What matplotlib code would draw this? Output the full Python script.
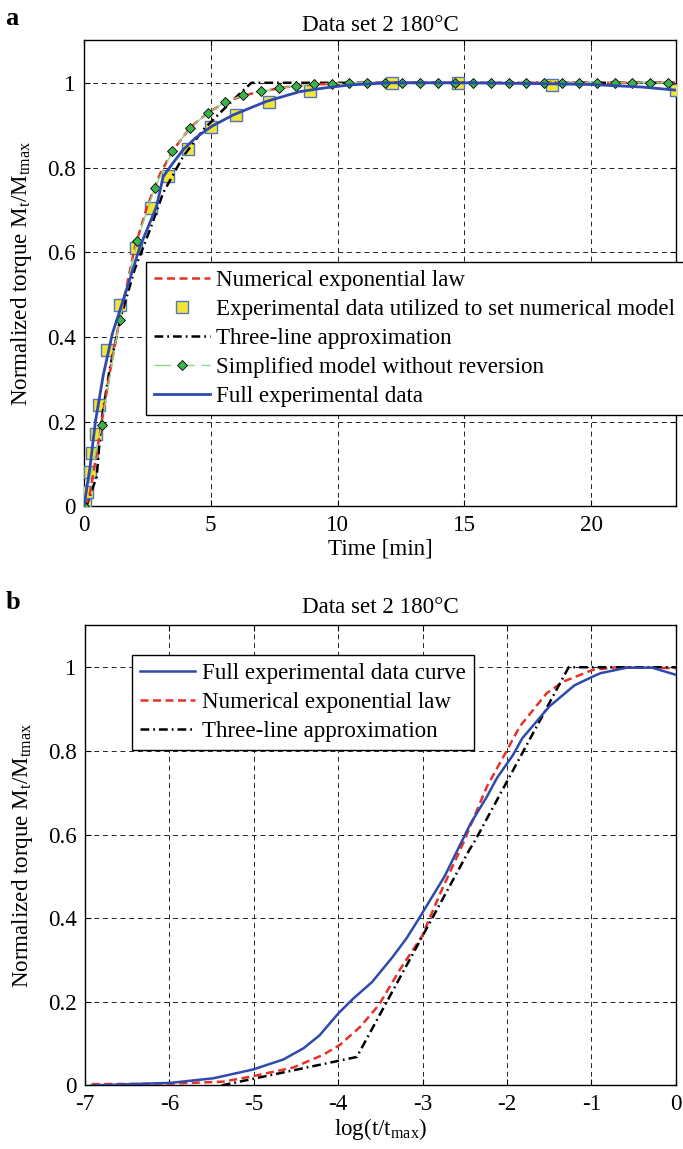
import matplotlib
matplotlib.use("Agg")
import matplotlib.pyplot as plt
from matplotlib.ticker import FuncFormatter

plt.rcParams['font.family'] = ['Liberation Serif', 'DejaVu Serif']
plt.rcParams['mathtext.fontset'] = 'custom'
plt.rcParams['mathtext.rm'] = 'Liberation Serif'
plt.rcParams['mathtext.it'] = 'Liberation Serif:italic'

# --- panel a : time domain [min] ---
t_full = [0, 0.1, 0.24, 0.45, 0.76, 1.12, 1.68, 2.2, 2.86, 3.12, 3.5, 3.91, 4.4,
          5.03, 5.88, 7.19, 8.5, 9.5, 10.5, 12, 15, 18, 20, 22, 23.3]
y_full = [0, 0.04, 0.094, 0.20, 0.31, 0.408, 0.512, 0.612, 0.708, 0.778, 0.81, 0.842, 0.87,
          0.897, 0.924, 0.956, 0.979, 0.988, 0.995, 1.0, 1.0, 0.998, 0.996, 0.99, 0.983]

t_sq = [0.04, 0.1, 0.23, 0.33, 0.46, 0.6, 0.91, 1.41, 2.04, 2.66, 3.3, 4.1,
        5.0, 6.0, 7.3, 8.92, 12.14, 14.74, 18.45, 23.33]
y_sq = [0.004, 0.035, 0.08, 0.127, 0.171, 0.24, 0.37, 0.476, 0.609, 0.704, 0.781, 0.843,
        0.896, 0.925, 0.955, 0.98, 1.0, 1.0, 0.995, 0.983]

t_exp = [0, 0.2, 0.4, 0.7, 1.0, 1.4, 2.0, 2.5, 3.0, 3.5, 4.2, 4.9, 5.6, 6.3, 7.0,
         8.0, 9.0, 10.0, 11.0, 12, 15, 20, 23.3]
y_exp = [0, 0.02, 0.09, 0.2, 0.31, 0.44, 0.61, 0.71, 0.785, 0.84, 0.895, 0.93, 0.955,
         0.97, 0.98, 0.99, 0.996, 0.998, 0.999, 1.0, 1.0, 1.0, 1.0]

t_3l = [0, 0.12, 0.5, 0.68, 1.0, 1.42, 2.0, 2.6, 3.12, 3.91, 4.7, 5.75, 6.6, 10, 15, 20, 23.3]
y_3l = [0, 0.005, 0.07, 0.2, 0.32, 0.44, 0.56, 0.653, 0.74, 0.826, 0.889, 0.952, 1.0,
        1.0, 1.0, 1.0, 1.0]

t_simp = [0, 0.70, 1.40, 2.09, 2.79, 3.49, 4.19, 4.89, 5.58, 6.28, 6.98, 7.68, 8.37,
          9.07, 9.77, 10.47, 11.17, 11.86, 12.56, 13.26, 13.96, 14.65, 15.35, 16.05,
          16.75, 17.44, 18.14, 18.84, 19.54, 20.24, 20.93, 21.63, 22.33, 23.03]
y_simp = [0, 0.193, 0.44, 0.627, 0.752, 0.839, 0.894, 0.929, 0.955, 0.971, 0.98, 0.987,
          0.993, 0.997, 0.998, 0.999, 1.0, 1.0, 1.0, 1.0, 1.0, 1.0, 1.0, 1.0,
          1.0, 1.0, 1.0, 1.0, 1.0, 1.0, 1.0, 1.0, 1.0, 1.0]

# --- panel b : log(t/tmax) ---
lx_full = [-6.92, -5.99, -5.48, -5.01, -4.65, -4.41, -4.22, -4.0, -3.82, -3.6, -3.36,
           -3.19, -3.05, -2.74, -2.43, -2.24, -2.12, -1.93, -1.82, -1.5, -1.2, -0.98,
           -0.89, -0.58, -0.28, 0.0]
ly_full = [0.0, 0.006, 0.017, 0.038, 0.062, 0.089, 0.12, 0.172, 0.208, 0.247, 0.306,
           0.352, 0.397, 0.5, 0.627, 0.69, 0.735, 0.79, 0.83, 0.906, 0.957, 0.978,
           0.986, 0.999, 0.999, 0.982]

lx_exp = [-6.92, -5.99, -5.36, -5.01, -4.53, -4.18, -3.98, -3.74, -3.52, -3.26, -3.01,
          -2.79, -2.52, -2.24, -2.0, -1.85, -1.53, -1.33, -0.98, -0.7, 0.0]
ly_exp = [0.003, 0.004, 0.009, 0.022, 0.043, 0.073, 0.097, 0.14, 0.192, 0.28, 0.356,
          0.46, 0.579, 0.714, 0.802, 0.858, 0.938, 0.966, 0.994, 1.0, 0.998]

lx_3l = [-5.38, -3.78, -2.45, -2.38, -1.27, 0.0]
ly_3l = [0.0, 0.068, 0.562, 0.585, 1.0, 1.0]

C_BLUE = '#2f4aad'
C_RED = '#e5332a'
C_GREEN_LINE = '#8ad88a'
C_GREEN = '#3bb34a'
C_YELLOW = '#f2e533'
C_SQ_EDGE = '#4f74c8'
FS = 16.6

RED_DASH = (3.2, 1.8)
BLACK_DASHDOT = (3.5, 1.6, 0.7, 1.6)


def fmt(v, pos):
    return '%g' % v


def style_axes(ax):
    ax.grid(True, color='#222222', linestyle=(0, (5, 4)), linewidth=0.7)
    ax.tick_params(direction='in', labelsize=FS, length=4, width=0.8, pad=6,
                   top=True, right=True)
    ax.yaxis.set_major_formatter(FuncFormatter(fmt))
    ax.xaxis.set_major_formatter(FuncFormatter(fmt))
    for s in ax.spines.values():
        s.set_linewidth(1.0)


fig = plt.figure(figsize=(6.83, 11.49), dpi=100)

# panel a
ax1 = fig.add_axes([0.123, 0.5593, 0.8668, 0.4055])
ax1.plot(t_exp, y_exp, color=C_RED, lw=1.8, dashes=RED_DASH,
         label='Numerical exponential law', zorder=4)
ax1.plot(t_sq, y_sq, linestyle='none', marker='s', ms=8, mfc=C_YELLOW,
         mec=C_SQ_EDGE, mew=1.0, label='Experimental data utilized to set numerical model',
         zorder=3)
ax1.plot(t_3l, y_3l, color='black', lw=1.8, dashes=BLACK_DASHDOT,
         label='Three-line approximation', zorder=3)
ax1.plot(t_simp, y_simp, color=C_GREEN_LINE, lw=1.0, dashes=(12, 5), marker='D', ms=5,
         mfc=C_GREEN, mec='black', mew=0.6, label='Simplified model without reversion',
         zorder=5)
ax1.plot(t_full, y_full, color=C_BLUE, lw=2.0, label='Full experimental data', zorder=6)
ax1.set_xlim(0, 23.35)
ax1.set_ylim(0, 1.1)
ax1.set_xticks([0, 5, 10, 15, 20])
ax1.set_yticks([0, 0.2, 0.4, 0.6, 0.8, 1.0])
style_axes(ax1)
ax1.set_title('Data set 2 180\u00b0C', fontsize=FS, pad=7)
ax1.set_xlabel('Time [min]', fontsize=FS, labelpad=2)
ax1.set_ylabel('Normalized torque M$_\\mathrm{t}$/M$_\\mathrm{tmax}$', fontsize=FS, labelpad=9)
leg1 = ax1.legend(loc='upper left', bbox_to_anchor=(0.105, 0.525), fontsize=FS,
                  frameon=True, fancybox=False, framealpha=1, edgecolor='black',
                  handlelength=2.4, handletextpad=0.3, labelspacing=0.34,
                  borderpad=0.35, borderaxespad=0)
leg1.get_frame().set_linewidth(1.0)
fig.text(0.008, 0.994, 'a', fontsize=19, fontweight='bold', va='top', ha='left')

# panel b
ax2 = fig.add_axes([0.1245, 0.05535, 0.865, 0.4003])
ax2.plot(lx_full, ly_full, color=C_BLUE, lw=1.8, label='Full experimental data curve',
         zorder=4)
ax2.plot(lx_exp, ly_exp, color=C_RED, lw=1.8, dashes=RED_DASH,
         label='Numerical exponential law', zorder=3)
ax2.plot(lx_3l, ly_3l, color='black', lw=1.8, dashes=BLACK_DASHDOT,
         label='Three-line approximation', zorder=3)
ax2.set_xlim(-7, 0)
ax2.set_ylim(0, 1.1)
ax2.set_xticks(range(-7, 1))
ax2.set_yticks([0, 0.2, 0.4, 0.6, 0.8, 1.0])
style_axes(ax2)
ax2.set_title('Data set 2 180\u00b0C', fontsize=FS, pad=9)
ax2.set_xlabel('log(t/t$_\\mathrm{max}$)', fontsize=FS, labelpad=1)
ax2.set_ylabel('Normalized torque M$_\\mathrm{t}$/M$_\\mathrm{tmax}$', fontsize=FS, labelpad=9)
leg2 = ax2.legend(loc='upper left', bbox_to_anchor=(0.079, 0.936), fontsize=FS,
                  frameon=True, fancybox=False, framealpha=1, edgecolor='black',
                  handlelength=2.4, handletextpad=0.3, labelspacing=0.34,
                  borderpad=0.35, borderaxespad=0)
leg2.get_frame().set_linewidth(1.0)
fig.text(0.008, 0.4855, 'b', fontsize=19, fontweight='bold', va='top', ha='left')

fig.savefig('out.png', dpi=100)
